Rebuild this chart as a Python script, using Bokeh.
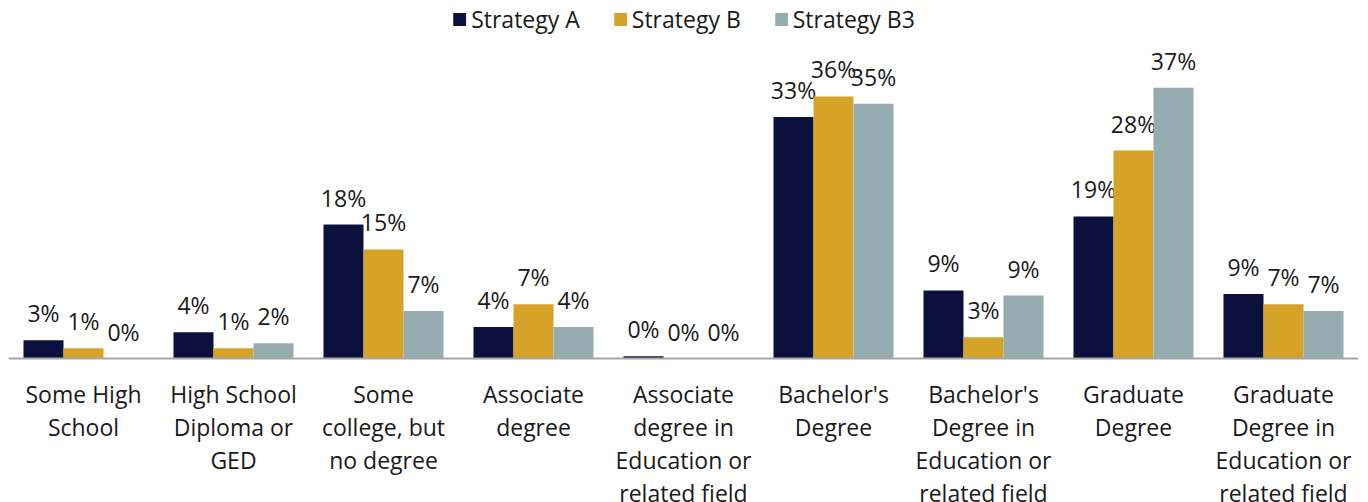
from bokeh.plotting import figure
from bokeh.models import ColumnDataSource, FactorRange, Range1d, Span, Legend, LegendItem
from bokeh.transform import dodge
from bokeh.core.properties import value
from bokeh.embed import file_html
from bokeh.resources import INLINE
import math

categories = [
    "Some High\nSchool",
    "High School\nDiploma or\nGED",
    "Some\ncollege, but\nno degree",
    "Associate\ndegree",
    "Associate\ndegree in\nEducation or\nrelated field",
    "Bachelor's\nDegree",
    "Bachelor's\nDegree in\nEducation or\nrelated field",
    "Graduate\nDegree",
    "Graduate\nDegree in\nEducation or\nrelated field",
]
series_names = ["Strategy A", "Strategy B", "Strategy B3"]
strategy_a = [2.5, 3.6, 18.3, 4.3, 0.3, 33.0, 9.3, 19.4, 8.8]
strategy_b = [1.4, 1.4, 14.9, 7.4, 0.0, 35.8, 2.9, 28.4, 7.4]
strategy_b3 = [0.0, 2.1, 6.5, 4.3, 0.0, 34.8, 8.6, 37.0, 6.5]

colors = ["#0b103c", "#d6a328", "#95acb1"]
FONT = "Open Sans"
FS = "23px"
PX_PER_PCT = 7.32
FRAME_W, H = 1350, 502
LEFT = 8
BASE_FROM_TOP = 358

def lab(v):
    return f"{int(math.floor(v + 0.5))}%"

src = ColumnDataSource(dict(
    cat=categories,
    a=strategy_a, b=strategy_b, b3=strategy_b3,
    la=[lab(v) for v in strategy_a],
    lb=[lab(v) for v in strategy_b],
    lb3=[lab(v) for v in strategy_b3],
    zero=[0] * len(categories),
))

p = figure(
    width=FRAME_W + LEFT, height=H,
    x_range=FactorRange(*categories, range_padding=0),
    y_range=Range1d(-(H - BASE_FROM_TOP) / PX_PER_PCT, BASE_FROM_TOP / PX_PER_PCT),
    output_backend="svg", toolbar_location=None,
    min_border=0, min_border_left=LEFT, outline_line_color=None,
)
p.xaxis.visible = False
p.yaxis.visible = False
p.xgrid.visible = False
p.ygrid.visible = False

bw = 0.2667
offs = [-bw, 0.0, bw]
cols = ["a", "b", "b3"]
lcols = ["la", "lb", "lb3"]
items = []
for name, col, lc, off, c in zip(series_names, cols, lcols, offs, colors):
    r = p.vbar(x=dodge("cat", off, range=p.x_range), top=col, width=bw,
               source=src, fill_color=c, line_color=None)
    items.append(LegendItem(label=name, renderers=[r]))
    p.text(x=dodge("cat", off, range=p.x_range), y=col, text=lc, source=src,
           text_font=value(FONT), text_font_size=FS, text_color="#1a1a1a",
           text_align="center", text_baseline="alphabetic", y_offset=-27)

p.add_layout(Span(location=0, dimension="width", line_color="#a6a6a6", line_width=2))

p.text(x="cat", y="zero", text="cat", source=src,
       text_font=value(FONT), text_font_size=FS, text_color="#1a1a1a",
       text_align="center", text_baseline="top", y_offset=19,
       text_line_height=1.04)

legend = Legend(items=items, orientation="horizontal", location="top_center",
                label_text_font=FONT, label_text_font_size=FS,
                label_text_color="#1a1a1a",
                glyph_width=16, glyph_height=16, label_standoff=4, spacing=32,
                padding=0, margin=3, border_line_color=None,
                background_fill_alpha=0)
p.add_layout(legend, "center")

open("out.html", "w").write(file_html(p, INLINE))
